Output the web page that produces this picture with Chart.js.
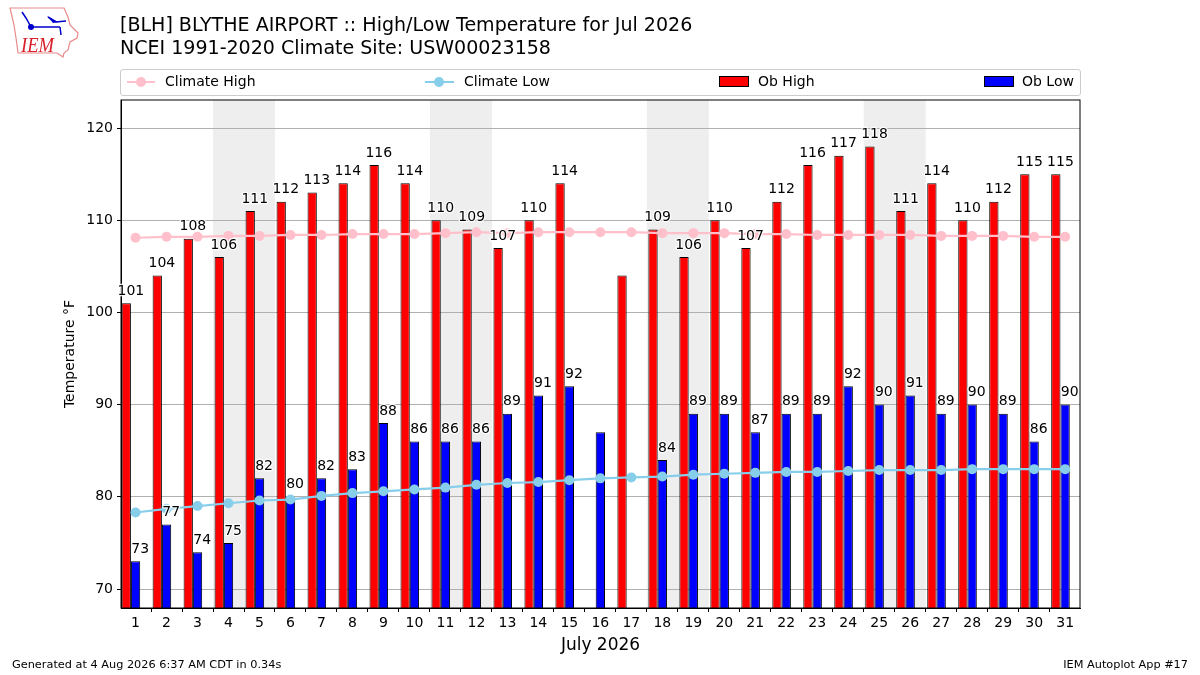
<!DOCTYPE html>
<html>
<head>
<meta charset="utf-8">
<title>BLH High/Low Temperature</title>
<script src="https://cdn.jsdelivr.net/npm/chart.js@4"></script>
<style>
  html, body { margin: 0; padding: 0; background: #fff; }
  body { width: 1200px; height: 675px; position: relative; overflow: hidden; font-family: "DejaVu Sans", sans-serif; color: #000; }
  canvas { position: absolute; left: 0; top: 0; }
  .txt { position: absolute; white-space: nowrap; line-height: 1; }
  .title { left: 120px; font-size: 19.05px; }
  .foot { font-size: 11.3px; top: 659px; }
  #legend { position: absolute; left: 120px; top: 69px; width: 959px; height: 25px; border: 1px solid #ccc; border-radius: 3px; }
  #legend .txt { font-size: 14px; top: 4px; }
  .patch { position: absolute; top: 6px; width: 28px; height: 9px; border: 1px solid #000; }
  #legend svg { position: absolute; top: 0; left: 0; }
</style>
</head>
<body>
<canvas id="chart" width="1200" height="675"></canvas>

<svg style="position:absolute;left:0;top:0" width="90" height="65">
  <path d="M10 8 L64 8 L68 17 L70 25 L78 33 L77 38 L70 42 L68 50 L64 53 L63 57 L57 53 L18 53 L16 38 L14 25 Z" fill="#fff" stroke="#e98a8a" stroke-width="1.2"/>
  <path d="M31 27 L60 27 M22 12 L26 18 L31 27 M48 17 L56 22 L66 21 M60 27 L61 35" stroke="#0000cc" stroke-width="1.5" fill="none"/>
  <path d="M47 16 L58 22 L53 23 Z" fill="#0000cc"/>
  <circle cx="31" cy="27" r="3" fill="#0000cc"/>
  <text x="21" y="52" font-family="Liberation Serif" font-style="italic" font-size="20" textLength="33" lengthAdjust="spacingAndGlyphs" fill="#d8202a">IEM</text>
</svg>

<div class="txt title" style="top:15px">[BLH] BLYTHE AIRPORT :: High/Low Temperature for Jul 2026</div>
<div class="txt title" style="top:38px">NCEI 1991-2020 Climate Site: USW00023158</div>

<div id="legend">
  <svg width="959" height="25">
    <line x1="6" y1="12" x2="34" y2="12" stroke="#ffc0cb" stroke-width="2"/>
    <circle cx="20" cy="12" r="5" fill="#ffc0cb"/>
    <line x1="304" y1="12" x2="333" y2="12" stroke="#87ceeb" stroke-width="2"/>
    <circle cx="318" cy="12" r="5" fill="#87ceeb"/>
  </svg>
  <div class="txt" style="left:44px">Climate High</div>
  <div class="txt" style="left:343px">Climate Low</div>
  <div class="patch" style="left:598px;background:#f00"></div>
  <div class="txt" style="left:637px">Ob High</div>
  <div class="patch" style="left:863px;background:#00f"></div>
  <div class="txt" style="left:901px">Ob Low</div>
</div>

<div class="txt foot" style="left:12px">Generated at 4 Aug 2026 6:37 AM CDT in 0.34s</div>
<div class="txt foot" style="right:12px">IEM Autoplot App #17</div>

<script>
const days = [1,2,3,4,5,6,7,8,9,10,11,12,13,14,15,16,17,18,19,20,21,22,23,24,25,26,27,28,29,30,31];
const obHigh = [101,104,108,106,111,112,113,114,116,114,110,109,107,110,114,null,104,109,106,110,107,112,116,117,118,111,114,110,112,115,115];
const obLow = [73,77,74,75,82,80,82,83,88,86,86,86,89,91,92,87,null,84,89,89,87,89,89,92,90,91,89,90,89,86,90];
const climateHigh = [108.1,108.2,108.2,108.3,108.3,108.4,108.4,108.5,108.5,108.5,108.6,108.7,108.6,108.7,108.7,108.7,108.7,108.6,108.6,108.6,108.5,108.5,108.4,108.4,108.4,108.4,108.3,108.3,108.3,108.2,108.2];
const climateLow = [78.3,78.7,79.0,79.3,79.6,79.7,80.1,80.4,80.6,80.8,81.0,81.3,81.5,81.6,81.8,82.0,82.1,82.2,82.4,82.5,82.6,82.7,82.7,82.8,82.9,82.9,82.9,83.0,83.0,83.0,83.0];
// days 16 and 17 have no value printed over their bars
const unlabeledDays = [16, 17];
// shaded weekends, [from, to] on the day axis
const weekends = [[3.5,5.5],[10.5,12.5],[17.5,19.5],[24.5,26.5]];

const font = "DejaVu Sans";

const weekendBands = {
  id: "weekendBands",
  beforeDraw(chart) {
    const { ctx, chartArea, scales } = chart;
    ctx.save();
    ctx.fillStyle = "#eeeeee";
    weekends.forEach(([a, b]) => {
      const x0 = scales.x.getPixelForValue(a);
      const x1 = scales.x.getPixelForValue(b);
      ctx.fillRect(x0, chartArea.top, x1 - x0, chartArea.height);
    });
    ctx.restore();
  }
};

const barLabels = {
  id: "barLabels",
  afterDatasetsDraw(chart) {
    const { ctx, chartArea } = chart;
    ctx.save();
    // top and right spines
    ctx.strokeStyle = "#000";
    ctx.lineWidth = 1;
    ctx.strokeRect(chartArea.left, chartArea.top, chartArea.width, chartArea.height);

    ctx.font = "14px " + font;
    ctx.textAlign = "center";
    ctx.textBaseline = "middle";
    ctx.lineJoin = "round";
    [2, 3].forEach((i) => {
      const values = chart.data.datasets[i].data;
      chart.getDatasetMeta(i).data.forEach((bar, j) => {
        if (values[j] === null || unlabeledDays.includes(days[j])) return;
        const x = bar.x + 4.6;
        const y = bar.y - 12;
        ctx.strokeStyle = "rgba(255,255,255,0.9)";
        ctx.lineWidth = 2.5;
        ctx.strokeText(values[j], x, y);
        ctx.fillStyle = "#000";
        ctx.fillText(values[j], x, y);
      });
    });
    ctx.restore();
  }
};

new Chart(document.getElementById("chart"), {
  data: {
    labels: days,
    datasets: [
      { type: "line", label: "Climate High", data: climateHigh, borderColor: "#ffc0cb", backgroundColor: "#ffc0cb", borderWidth: 2.2, pointRadius: 5, pointBorderWidth: 0, pointHoverRadius: 5, order: 1 },
      { type: "line", label: "Climate Low", data: climateLow, borderColor: "#87ceeb", backgroundColor: "#87ceeb", borderWidth: 2.2, pointRadius: 5, pointBorderWidth: 0, pointHoverRadius: 5, order: 1 },
      { type: "bar", label: "Ob High", data: obHigh, backgroundColor: "#ff0000", borderColor: "#000", borderWidth: 1, barPercentage: 1, categoryPercentage: 0.9, order: 2 },
      { type: "bar", label: "Ob Low", data: obLow, backgroundColor: "#0000ff", borderColor: "#000", borderWidth: 1, barPercentage: 1, categoryPercentage: 0.9, order: 2 },
      // empty third slot: high sits left of the tick, low on the tick
      { type: "bar", label: "", data: [], barPercentage: 1, categoryPercentage: 0.9, order: 2 }
    ]
  },
  options: {
    responsive: false,
    animation: false,
    devicePixelRatio: 1,
    layout: { padding: { left: 62, top: 100, right: 120, bottom: 19 } },
    plugins: { legend: { display: false }, tooltip: { enabled: false } },
    scales: {
      x: {
        type: "linear",
        offset: false,
        min: 0.53,
        max: 31.48,
        afterFit: (s) => { s.height = 48; },
        grid: { drawOnChartArea: false, tickLength: 4, tickColor: "#000", tickWidth: 1 },
        border: { color: "#000", width: 1 },
        ticks: { stepSize: 1, autoSkip: false, maxRotation: 0, includeBounds: false, color: "#000", padding: 3, font: { family: font, size: 14 } },
        title: { display: true, text: "July 2026", color: "#000", padding: { top: 7, bottom: 0 }, font: { family: font, size: 17 } }
      },
      y: {
        min: 67.94,
        max: 123.04,
        afterFit: (s) => { s.width = 59; },
        grid: { color: "#b0b0b0", lineWidth: 1, tickLength: 4, tickColor: "#000" },
        border: { color: "#000", width: 1 },
        ticks: { stepSize: 10, includeBounds: false, color: "#000", padding: 4, font: { family: font, size: 14 } },
        title: { display: true, text: "Temperature °F", color: "#000", padding: 0, font: { family: font, size: 14 } }
      }
    }
  },
  plugins: [weekendBands, barLabels]
});
</script>
</body>
</html>
